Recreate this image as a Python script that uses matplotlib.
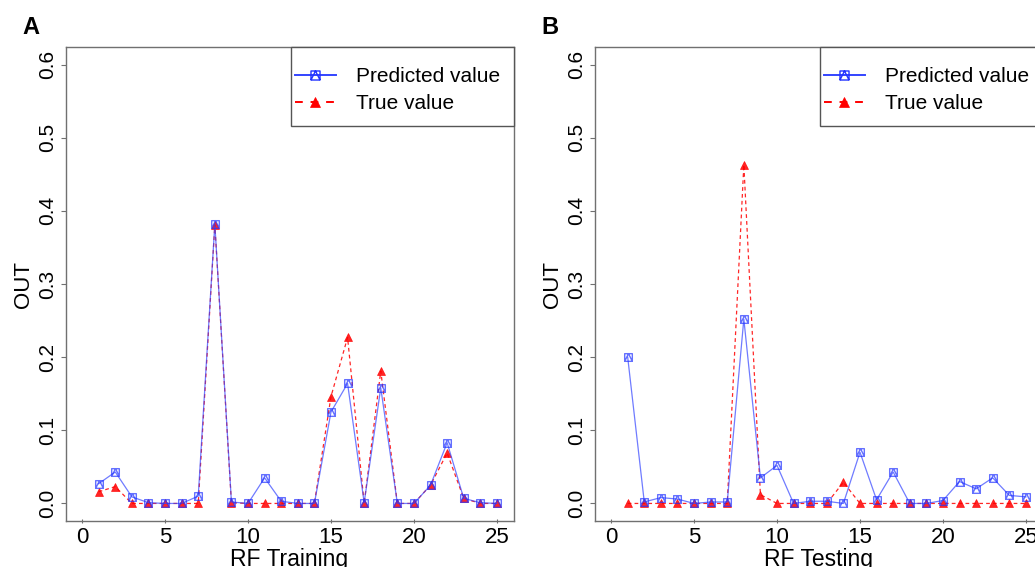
import numpy as np
import matplotlib
matplotlib.use("Agg")
import matplotlib.pyplot as plt
from matplotlib.path import Path
from matplotlib.patches import Rectangle

plt.rcParams['font.family'] = ['Liberation Sans', 'DejaVu Sans']

# sample index 1..25
samples = list(range(1, 26))

# RF training
train_pred = [0.027, 0.043, 0.009, 0.001, 0.000, 0.000, 0.010, 0.382, 0.002, 0.000,
              0.035, 0.003, 0.000, 0.000, 0.125, 0.164, 0.001, 0.158, 0.000, 0.000,
              0.025, 0.083, 0.007, 0.001, 0.000]
train_true = [0.016, 0.023, 0.000, 0.000, 0.000, 0.000, 0.000, 0.381, 0.001, 0.000,
              0.000, 0.000, 0.000, 0.000, 0.146, 0.227, 0.000, 0.181, 0.000, 0.000,
              0.025, 0.069, 0.007, 0.000, 0.000]

# RF testing
test_pred = [0.200, 0.002, 0.008, 0.006, 0.000, 0.002, 0.002, 0.252, 0.035, 0.052,
             0.000, 0.003, 0.003, 0.000, 0.070, 0.005, 0.043, 0.000, 0.000, 0.004,
             0.030, 0.020, 0.035, 0.011, 0.009]
test_true = [0.000, 0.000, 0.000, 0.000, 0.000, 0.000, 0.000, 0.463, 0.012, 0.000,
             0.000, 0.000, 0.000, 0.029, 0.000, 0.000, 0.000, 0.000, 0.000, 0.000,
             0.000, 0.000, 0.000, 0.000, 0.000]

xticks = [0, 5, 10, 15, 20, 25]
yticks = [0.0, 0.1, 0.2, 0.3, 0.4, 0.5, 0.6]

# square with a triangle inside (like R pch=14)
sq_tri = Path([(-1, -1), (1, -1), (1, 1), (-1, 1), (-1, -1),
               (-1, -1), (0, 1), (1, -1)],
              [Path.MOVETO, Path.LINETO, Path.LINETO, Path.LINETO, Path.CLOSEPOLY,
               Path.MOVETO, Path.LINETO, Path.LINETO])

fig = plt.figure(figsize=(10.35, 5.67), dpi=100)
W, H = 1035, 567
box_color = '#707070'


def panel(left_px, pred, true, xlabel, letter, letter_x):
    ax = fig.add_axes([left_px / W, 1 - 521 / H, 448 / W, (521 - 47) / H])
    ax.plot(samples, true, color='red', lw=0.9, ls=(0, (3, 2.5)), alpha=0.85,
            marker='^', ms=6, mfc='red', mec='red', mew=0.5, label='True value', zorder=2)
    ax.plot(samples, pred, color='#3344ff', lw=0.9, alpha=0.7,
            marker=sq_tri, ms=5.5, mfc='none', mec='#2233ff', mew=1.0,
            label='Predicted value', zorder=3)
    ax.set_xlim(-1, 26)
    ax.set_ylim(-0.024, 0.624)
    ax.set_xticks(xticks)
    ax.set_yticks(yticks)
    ax.set_yticklabels([f'{v:.1f}' for v in yticks], rotation=90, va='center')
    ax.tick_params(axis='y', length=3.8, width=0.8, color=box_color, labelsize=15, pad=2)
    ax.tick_params(axis='x', length=3, width=0.8, direction='inout', color=box_color,
                   labelsize=16, pad=3)
    for s in ax.spines.values():
        s.set_color(box_color)
        s.set_linewidth(1.0)
    ax.set_xlabel(xlabel, fontsize=16.5, labelpad=0)
    ax.set_ylabel('OUT', fontsize=16, labelpad=3)

    # legend frame drawn by hand, R style (tight on the left)
    ax.add_patch(Rectangle((0.503, 0.833), 0.497, 0.167, transform=ax.transAxes,
                           facecolor='white', edgecolor='#555555', lw=1.0,
                           zorder=5, clip_on=False))
    h, l = ax.get_legend_handles_labels()
    leg = ax.legend(h[::-1], l[::-1], loc='upper left', bbox_to_anchor=(0.512, 0.958),
                    fontsize=15, frameon=False, borderaxespad=0, borderpad=0,
                    handlelength=1.95, handletextpad=1.0, labelspacing=0.38)
    leg.set_zorder(6)
    for line in leg.get_lines():
        line.set_alpha(1.0)
        line.set_linewidth(1.4)
        line.set_markersize(7.5)
    leg.get_lines()[0].set_markersize(6.5)
    leg.get_lines()[1].set_linestyle((0, (4, 4)))
    fig.text(letter_x / W, 1 - 28 / H, letter, fontsize=17, fontweight='bold',
             va='center', ha='left')
    return ax


panel(65.5, train_pred, train_true, 'RF Training', 'A', 22.5)
panel(594.5, test_pred, test_true, 'RF Testing', 'B', 541)

fig.savefig('out.png', dpi=100)
